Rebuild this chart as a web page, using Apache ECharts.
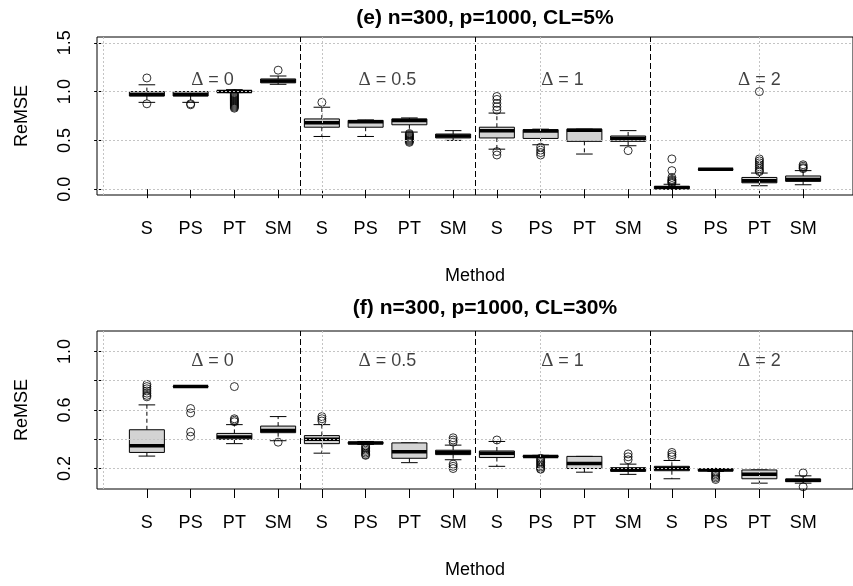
<!DOCTYPE html>
<html><head><meta charset="utf-8">
<script src="https://cdn.jsdelivr.net/npm/echarts@6/dist/echarts.min.js"></script>
<style>html,body{margin:0;padding:0;background:#fff}#c{width:853px;height:586px}</style>
</head><body><div id="c"></div>
<script>
// ---------------- DATA ----------------
const methods = ['S', 'PS', 'PT', 'SM'];
const deltaLabels = ['0', '0.5', '1', '2'];
const deltaPosX = [2.5, 6.5, 10.5, 15];
const titleE = '(e) n=300, p=1000, CL=5%';
const titleF = '(f) n=300, p=1000, CL=30%';
const yTicksE = [0, 0.5, 1.0, 1.5];
const yLabelsE = [0, 0.5, 1.0, 1.5];
const yTicksF = [0.2, 0.4, 0.6, 0.8, 1.0];
const yLabelsF = [0.2, 0.6, 1.0];
const gridX = [0, 5, 10, 15];
const separators = [4.5, 8.5, 12.5];
const deltaTextYE = 1.12;
const deltaTextYF = 0.933;

// [min, Q1, median, Q3, max] for each of the 16 boxes (4 methods x 4 deltas)
const statsE = [
  [0.89, 0.955, 0.97, 1.0, 1.07],
  [0.89, 0.955, 0.97, 1.0, 1.0],
  [0.99, 0.995, 1.0, 1.01, 1.02],
  [1.075, 1.09, 1.11, 1.13, 1.16],
  [0.54, 0.635, 0.68, 0.72, 0.84],
  [0.54, 0.635, 0.69, 0.705, 0.71],
  [0.585, 0.66, 0.705, 0.72, 0.73],
  [0.50, 0.525, 0.545, 0.565, 0.60],
  [0.41, 0.525, 0.60, 0.635, 0.78],
  [0.455, 0.52, 0.595, 0.61, 0.615],
  [0.36, 0.49, 0.605, 0.615, 0.615],
  [0.445, 0.49, 0.52, 0.545, 0.60],
  [0.0, 0.005, 0.015, 0.03, 0.05],
  [0.2, 0.203, 0.205, 0.207, 0.21],
  [0.035, 0.065, 0.085, 0.12, 0.165],
  [0.045, 0.08, 0.10, 0.135, 0.19]
];
const outliersE = [
  [1.14, 0.875],
  [0.875, 0.865],
  [0.98, 0.97, 0.96, 0.95, 0.94, 0.93, 0.92, 0.91, 0.90, 0.89, 0.88, 0.87, 0.86, 0.85, 0.84, 0.83],
  [1.22],
  [0.89],
  [],
  [0.57, 0.56, 0.55, 0.54, 0.53, 0.52, 0.51, 0.50, 0.49, 0.48],
  [],
  [0.95, 0.92, 0.88, 0.845, 0.81, 0.385, 0.35],
  [0.43, 0.40, 0.375, 0.35],
  [],
  [0.395],
  [0.31, 0.19, 0.12, 0.10, 0.09, 0.08, 0.07, 0.06],
  [],
  [1.0, 0.31, 0.29, 0.27, 0.25, 0.23, 0.21, 0.19, 0.18],
  [0.25, 0.235, 0.22, 0.21]
];
const statsF = [
  [0.285, 0.31, 0.355, 0.465, 0.635],
  [0.755, 0.757, 0.76, 0.762, 0.765],
  [0.37, 0.40, 0.415, 0.44, 0.50],
  [0.39, 0.445, 0.46, 0.49, 0.555],
  [0.305, 0.37, 0.40, 0.425, 0.50],
  [0.365, 0.37, 0.375, 0.38, 0.385],
  [0.24, 0.27, 0.315, 0.375, 0.375],
  [0.26, 0.295, 0.31, 0.325, 0.36],
  [0.215, 0.275, 0.305, 0.32, 0.385],
  [0.275, 0.278, 0.283, 0.288, 0.29],
  [0.175, 0.20, 0.235, 0.283, 0.283],
  [0.16, 0.18, 0.195, 0.205, 0.23],
  [0.13, 0.185, 0.20, 0.215, 0.255],
  [0.18, 0.185, 0.19, 0.195, 0.20],
  [0.10, 0.13, 0.16, 0.19, 0.19],
  [0.10, 0.11, 0.12, 0.128, 0.15]
];
const outliersF = [
  [0.775, 0.76, 0.745, 0.73, 0.715, 0.70, 0.69],
  [0.61, 0.58, 0.45, 0.42],
  [0.76, 0.54, 0.53, 0.52],
  [0.38],
  [0.555, 0.54, 0.525],
  [0.355, 0.345, 0.335, 0.325, 0.315, 0.305, 0.295, 0.29],
  [],
  [0.41, 0.395, 0.38, 0.23, 0.215, 0.20],
  [0.395],
  [0.27, 0.26, 0.25, 0.24, 0.23, 0.22, 0.21, 0.20, 0.195],
  [],
  [0.30, 0.28, 0.26],
  [0.31, 0.295, 0.28],
  [0.175, 0.165, 0.155, 0.145, 0.135, 0.125],
  [],
  [0.17, 0.075]
];

// ---------------- BUILD ----------------
const FONT = 'Liberation Sans, Arial, sans-serif';
const BOX_W = 0.8, CAP_W = 0.38;
const xPositions = statsE.map((_, i) => i + 1);

function renderBox(params, api) {
  const x = api.value(0);
  const pMin = api.coord([x, api.value(1)]);
  const pQ1 = api.coord([x, api.value(2)]);
  const pMd = api.coord([x, api.value(3)]);
  const pQ3 = api.coord([x, api.value(4)]);
  const pMax = api.coord([x, api.value(5)]);
  const hw = api.size([BOX_W, 0])[0] / 2;
  const cw = api.size([CAP_W, 0])[0] / 2;
  const cx = pMd[0];
  const blk = '#000';
  const ch = [];
  ch.push({type: 'line', shape: {x1: cx, y1: pQ3[1], x2: cx, y2: pMax[1]}, style: {stroke: blk, lineWidth: 1, lineDash: [4, 3]}});
  ch.push({type: 'line', shape: {x1: cx, y1: pQ1[1], x2: cx, y2: pMin[1]}, style: {stroke: blk, lineWidth: 1, lineDash: [4, 3]}});
  ch.push({type: 'line', shape: {x1: cx - cw, y1: pMax[1], x2: cx + cw, y2: pMax[1]}, style: {stroke: blk, lineWidth: 1}});
  ch.push({type: 'line', shape: {x1: cx - cw, y1: pMin[1], x2: cx + cw, y2: pMin[1]}, style: {stroke: blk, lineWidth: 1}});
  ch.push({type: 'rect', shape: {x: cx - hw, y: pQ3[1], width: 2 * hw, height: pQ1[1] - pQ3[1]}, style: {fill: '#d3d3d3', stroke: blk, lineWidth: 1}});
  ch.push({type: 'line', shape: {x1: cx - hw, y1: pMd[1], x2: cx + hw, y2: pMd[1]}, style: {stroke: blk, lineWidth: 3.5}});
  return {type: 'group', children: ch};
}

function outlierData(outs) {
  const d = [];
  outs.forEach((arr, i) => arr.forEach(v => d.push([i + 1, v])));
  return d;
}

function markLines(yGrid) {
  const gl = {type: [2, 2], color: '#c4c4c4', width: 1};
  const data = [];
  gridX.forEach(v => data.push({xAxis: v, lineStyle: gl}));
  yGrid.forEach(v => data.push({yAxis: v, lineStyle: gl}));
  separators.forEach(v => data.push({xAxis: v, lineStyle: {type: [6, 3], color: '#000', width: 1}}));
  return {silent: true, symbol: ['none', 'none'], label: {show: false}, animation: false, data: data};
}

const deltaRich = {
  g: {fontFamily: 'Liberation Serif, DejaVu Serif, serif', fontSize: 19, color: '#111'},
  t: {fontFamily: FONT, fontSize: 18, color: '#111'}
};

function xAxisCfg(gi) {
  return {
    gridIndex: gi, type: 'value', min: -0.14, max: 17.14,
    axisLine: {show: false}, splitLine: {show: false},
    axisTick: {show: true, length: 9, customValues: xPositions, lineStyle: {color: '#000'}},
    axisLabel: {customValues: xPositions, formatter: v => methods[(Math.round(v) - 1) % 4], fontSize: 18, color: '#000', fontFamily: FONT, margin: 25},
    name: 'Method', nameLocation: 'middle', nameGap: 72,
    nameTextStyle: {fontSize: 18, color: '#000', fontFamily: FONT}
  };
}
function yAxisCfg(gi, mn, mx, ticks, labels) {
  return {
    gridIndex: gi, type: 'value', min: mn, max: mx,
    axisLine: {show: false}, splitLine: {show: false},
    axisTick: {show: true, length: 9, customValues: ticks, lineStyle: {color: '#000'}},
    axisLabel: {customValues: labels, rotate: 90, formatter: v => v.toFixed(1), fontSize: 18, color: '#000', fontFamily: FONT, margin: 23},
    name: 'ReMSE', nameLocation: 'middle', nameGap: 66, nameRotate: 90,
    nameTextStyle: {fontSize: 18, color: '#000', fontFamily: FONT}
  };
}

const option = {
  animation: false,
  backgroundColor: '#fff',
  title: [
    {text: titleE, left: 480, top: 3, textAlign: 'center', textStyle: {fontSize: 21, fontWeight: 'bold', color: '#000', fontFamily: FONT}},
    {text: titleF, left: 480, top: 293, textAlign: 'center', textStyle: {fontSize: 21, fontWeight: 'bold', color: '#000', fontFamily: FONT}}
  ],
  grid: [
    {left: 97, right: -11, top: 37, height: 158, show: true, borderColor: '#000', borderWidth: 1, backgroundColor: 'transparent'},
    {left: 97, right: -11, top: 331, height: 158, show: true, borderColor: '#000', borderWidth: 1, backgroundColor: 'transparent'}
  ],
  xAxis: [xAxisCfg(0), xAxisCfg(1)],
  yAxis: [yAxisCfg(0, -0.06, 1.56, yTicksE, yLabelsE), yAxisCfg(1, 0.06, 1.14, yTicksF, yLabelsF)],
  series: [
    {type: 'custom', xAxisIndex: 0, yAxisIndex: 0, renderItem: renderBox, data: statsE.map((s, i) => [i + 1].concat(s)), z: 2},
    {type: 'scatter', xAxisIndex: 0, yAxisIndex: 0, data: outlierData(outliersE), symbol: 'circle', symbolSize: 8,
     itemStyle: {color: 'transparent', borderColor: '#000', borderWidth: 1}, z: 3, markLine: markLines(yTicksE)},
    {type: 'scatter', xAxisIndex: 0, yAxisIndex: 0, data: deltaPosX.map(x => [x, deltaTextYE]), symbolSize: 1,
     itemStyle: {color: 'transparent'}, z: 6,
     label: {show: true, position: 'inside', color: '#111', formatter: p => '{g|Δ}{t| = ' + deltaLabels[p.dataIndex] + '}', rich: deltaRich}},
    {type: 'custom', xAxisIndex: 1, yAxisIndex: 1, renderItem: renderBox, data: statsF.map((s, i) => [i + 1].concat(s)), z: 2},
    {type: 'scatter', xAxisIndex: 1, yAxisIndex: 1, data: outlierData(outliersF), symbol: 'circle', symbolSize: 8,
     itemStyle: {color: 'transparent', borderColor: '#000', borderWidth: 1}, z: 3, markLine: markLines(yTicksF)},
    {type: 'scatter', xAxisIndex: 1, yAxisIndex: 1, data: deltaPosX.map(x => [x, deltaTextYF]), symbolSize: 1,
     itemStyle: {color: 'transparent'}, z: 6,
     label: {show: true, position: 'inside', color: '#111', formatter: p => '{g|Δ}{t| = ' + deltaLabels[p.dataIndex] + '}', rich: deltaRich}}
  ]
};
const chart = echarts.init(document.getElementById('c'), null, {renderer: 'canvas'});
chart.setOption(option);
</script>
</body></html>
